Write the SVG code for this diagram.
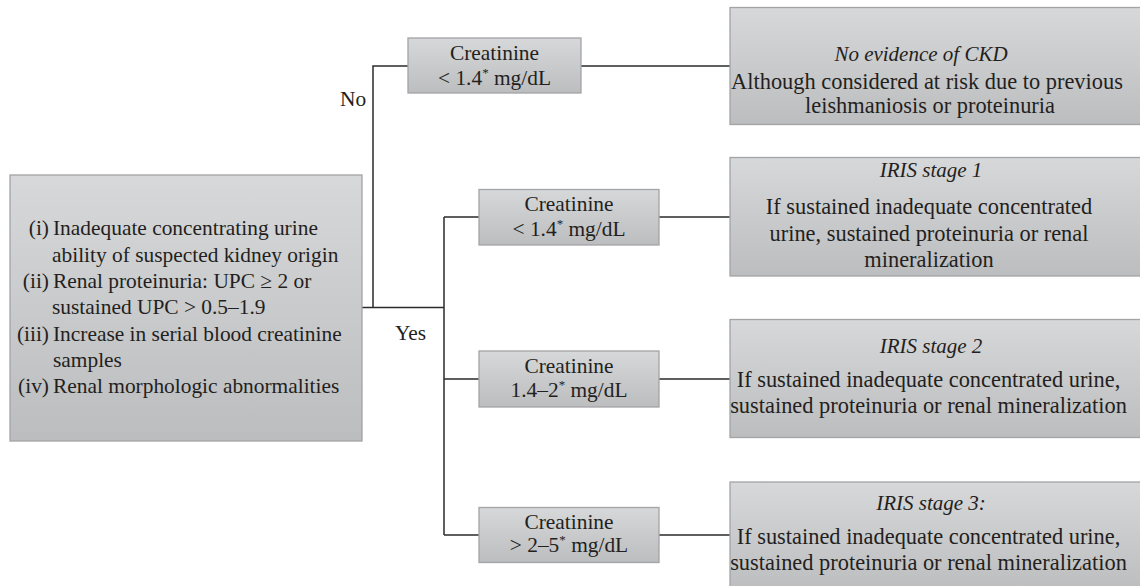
<svg xmlns="http://www.w3.org/2000/svg" width="1140" height="586" viewBox="0 0 1140 586">
<defs>
<linearGradient id="g" x1="0" y1="0" x2="0" y2="1">
<stop offset="0" stop-color="#d7d8da"/>
<stop offset="1" stop-color="#bcbdbf"/>
</linearGradient>
</defs>
<style>
.box{fill:url(#g);stroke:#a3a4a6;stroke-width:1.3}
.t{font-family:"Liberation Serif","Times New Roman",serif;fill:#231f20}
.s{font-size:21.4px}
.r{font-size:22.4px}
.h{font-size:21px;font-style:italic}
.c{text-anchor:middle}
.e{text-anchor:end}
.ln{fill:none;stroke:#2b2b2b;stroke-width:1.5}
</style>
<rect width="1140" height="586" fill="#ffffff"/>
<g id="connectors">
<path class="ln" d="M362 307.5H444M373 307.5V66H408M581 66H730M444 217V535M444 217H479M444 379H479M444 535H479M659 217H730M659 379H730M659 535H730"/>
<text class="t s" x="340" y="106">No</text>
<text class="t s" x="395" y="340">Yes</text>
</g>
<g id="criteria">
<rect class="box" x="10" y="175" width="352" height="266"/>
<text class="t s e" x="49" y="235">(i)</text>
<text class="t s" x="53" y="235">Inadequate concentrating urine</text>
<text class="t s" x="52" y="261.5">ability of suspected kidney origin</text>
<text class="t s e" x="49" y="288">(ii)</text>
<text class="t s" x="53" y="288">Renal proteinuria: UPC ≥  2 or</text>
<text class="t s" x="52" y="314">sustained UPC &gt; 0.5–1.9</text>
<text class="t s e" x="49" y="340.5">(iii)</text>
<text class="t s" x="53" y="340.5">Increase in serial blood creatinine</text>
<text class="t s" x="53" y="367">samples</text>
<text class="t s e" x="49" y="393">(iv)</text>
<text class="t s" x="53" y="393">Renal morphologic abnormalities</text>
</g>
<g id="creat-no">
<rect class="box" x="408" y="38" width="173" height="55"/>
<text class="t s c" x="494.5" y="59.5">Creatinine</text>
<text class="t s c" x="494.5" y="84.5">&lt; 1.4<tspan font-size="13" dy="-8">*</tspan><tspan dy="8"> mg/dL</tspan></text>
</g>
<g id="creat-1">
<rect class="box" x="479" y="189.5" width="180" height="55.5"/>
<text class="t s c" x="569" y="210.5">Creatinine</text>
<text class="t s c" x="569" y="235.5">&lt; 1.4<tspan font-size="13" dy="-8">*</tspan><tspan dy="8"> mg/dL</tspan></text>
</g>
<g id="creat-2">
<rect class="box" x="479" y="351" width="180" height="56"/>
<text class="t s c" x="569" y="373">Creatinine</text>
<text class="t s c" x="569" y="397">1.4–2<tspan font-size="13" dy="-8">*</tspan><tspan dy="8"> mg/dL</tspan></text>
</g>
<g id="creat-3">
<rect class="box" x="479" y="507.5" width="180" height="55"/>
<text class="t s c" x="569" y="529">Creatinine</text>
<text class="t s c" x="569" y="552">&gt; 2–5<tspan font-size="13" dy="-8">*</tspan><tspan dy="8"> mg/dL</tspan></text>
</g>
<g id="no-ckd">
<rect class="box" x="730" y="7.5" width="412" height="117"/>
<text class="t h c" x="921" y="60.5">No evidence of CKD</text>
<text class="t r c" x="927" y="89">Although considered at risk due to previous</text>
<text class="t r c" x="930" y="112.5">leishmaniosis or proteinuria</text>
</g>
<g id="iris1">
<rect class="box" x="730" y="157.5" width="412" height="118.5"/>
<text class="t h c" x="931" y="177">IRIS stage 1</text>
<text class="t r c" x="929" y="214">If sustained inadequate concentrated</text>
<text class="t r c" x="929" y="240.5">urine, sustained proteinuria or renal</text>
<text class="t r c" x="929" y="267">mineralization</text>
</g>
<g id="iris2">
<rect class="box" x="730" y="319.5" width="412" height="118"/>
<text class="t h c" x="931" y="353">IRIS stage 2</text>
<text class="t r c" x="928.5" y="386.5">If sustained inadequate concentrated urine,</text>
<text class="t r c" x="928.5" y="413">sustained proteinuria or renal mineralization</text>
</g>
<g id="iris3">
<rect class="box" x="730" y="482" width="412" height="110"/>
<text class="t h c" x="931" y="509.5">IRIS stage 3:</text>
<text class="t r c" x="928.5" y="543.5">If sustained inadequate concentrated urine,</text>
<text class="t r c" x="928.5" y="569.5">sustained proteinuria or renal mineralization</text>
</g>
</svg>
